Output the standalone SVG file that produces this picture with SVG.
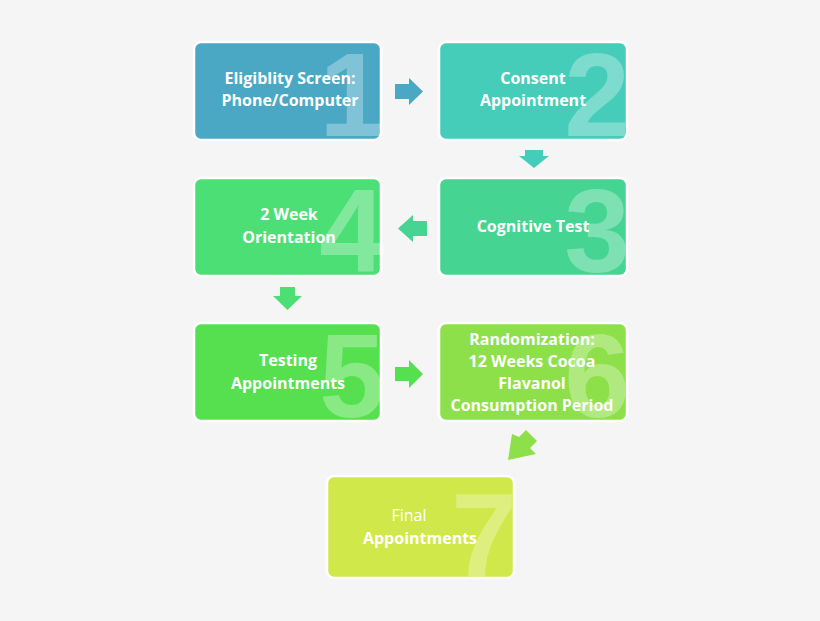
<svg xmlns="http://www.w3.org/2000/svg" width="820" height="621" viewBox="0 0 820 621">
<style>
.b{stroke:#fff;stroke-width:2.5}
.n{font-family:"Liberation Sans",Arial,sans-serif;font-weight:bold;font-size:118px;fill:#fff;fill-opacity:0.3;text-anchor:end}
.t{font-family:"Open Sans","Liberation Sans",sans-serif;font-weight:bold;font-size:16px;fill:#fff;text-anchor:middle}
</style>
<rect width="820" height="621" fill="#f5f5f5"/>
<g id="n1"><rect class="b" x="194" y="42" width="187" height="98" rx="7" fill="#4aa8c4"/><text class="n" x="385" y="136">1</text><text class="t" x="290" y="84">Eligiblity Screen:</text><text class="t" x="290" y="106">Phone/Computer</text></g>
<g id="n2"><rect class="b" x="439" y="42" width="188" height="98" rx="7" fill="#45cdb9"/><text class="n" x="630" y="136">2</text><text class="t" x="533" y="84">Consent</text><text class="t" x="533" y="106">Appointment</text></g>
<g id="n3"><rect class="b" x="439" y="178" width="188" height="98" rx="7" fill="#46d492"/><text class="n" x="630" y="272">3</text><text class="t" x="533" y="232">Cognitive Test</text></g>
<g id="n4"><rect class="b" x="194" y="178" width="187" height="98" rx="7" fill="#4cdf75"/><text class="n" x="385" y="272">4</text><text class="t" x="289" y="220">2 Week</text><text class="t" x="289" y="243">Orientation</text></g>
<g id="n5"><rect class="b" x="194" y="323" width="187" height="98" rx="7" fill="#56e050"/><text class="n" x="385" y="417">5</text><text class="t" x="288" y="366">Testing</text><text class="t" x="288" y="389">Appointments</text></g>
<g id="n6"><rect class="b" x="439" y="323" width="188" height="98" rx="7" fill="#8ee04a"/><text class="n" x="630" y="417">6</text><text class="t" x="532" y="345">Randomization:</text><text class="t" x="532" y="367">12 Weeks Cocoa</text><text class="t" x="532" y="389">Flavanol</text><text class="t" x="532" y="411">Consumption Period</text></g>
<g id="n7"><rect class="b" x="327" y="476" width="187" height="102" rx="7" fill="#d0e84a"/><text class="n" x="517" y="576">7</text><text class="t" x="409" y="521" style="font-weight:normal">Final</text><text class="t" x="420" y="544">Appointments</text></g>
<g id="connectors">
<polygon fill="#4aa8c4" points="395,84 409,84 409,78 423,91.5 409,105 409,99 395,99"/>
<polygon fill="#45cdb9" points="525,150 543,150 543,156 549,156 534,168 519,156 525,156"/>
<polygon fill="#46d492" points="427,221 413,221 413,215 398,228.5 413,242 413,236 427,236"/>
<polygon fill="#4cdf75" points="280,287 295,287 295,296 302,296 287.5,310 273,296 280,296"/>
<polygon fill="#56e050" points="395,367 409,367 409,360 423,374 409,388 409,381 395,381"/>
<polygon fill="#8ee04a" points="526,430 537,441 530,448 536,454 508,460 512,434 519,437"/>
</g>
</svg>
